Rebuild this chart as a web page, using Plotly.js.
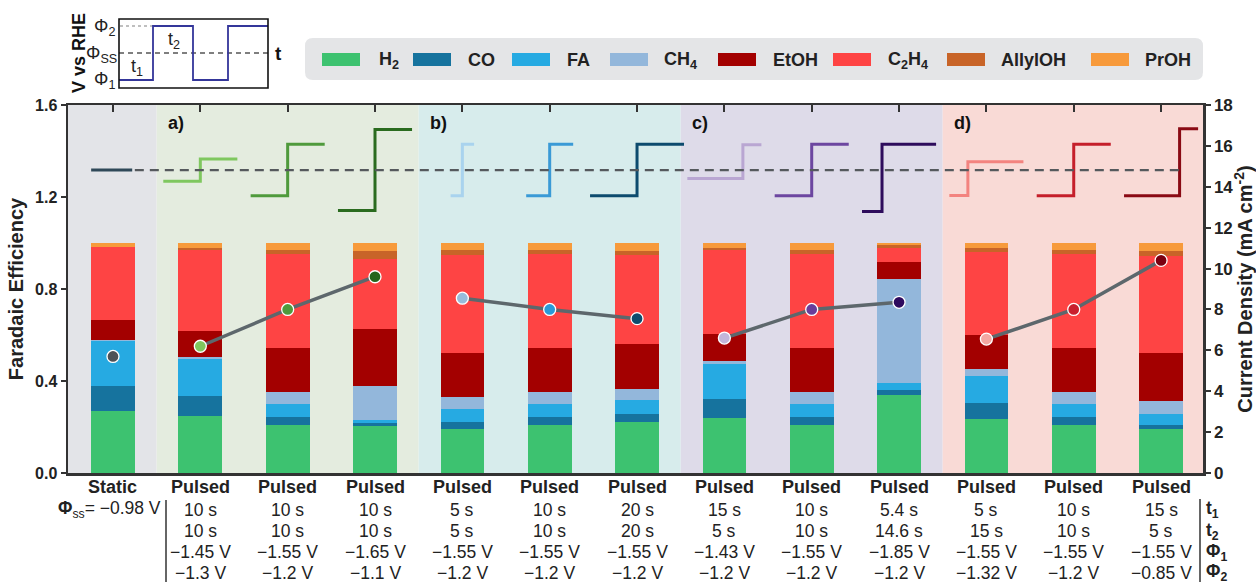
<!DOCTYPE html>
<html>
<head>
<meta charset="utf-8">
<script src="https://cdn.plot.ly/plotly-3.0.1.min.js"></script>
<style>html,body{margin:0;padding:0;background:#fff;}#chart{width:1256px;height:584px;}</style>
</head>
<body>
<div id="chart"></div>
<script>
// ---------------- DATA ----------------
const categories = ['Static','Pulsed','Pulsed','Pulsed','Pulsed','Pulsed','Pulsed','Pulsed','Pulsed','Pulsed','Pulsed','Pulsed','Pulsed'];
const groupOf = [0,1,1,1,2,2,2,3,3,3,4,4,4];
const groupLabels = ['','a)','b)','c)','d)'];
const t1 = [null,10,10,10,5,10,20,15,10,5.4,5,10,15];
const t2 = [null,10,10,10,5,10,20,5,10,14.6,15,10,5];
const phi1 = [-0.98,-1.45,-1.55,-1.65,-1.55,-1.55,-1.55,-1.43,-1.55,-1.85,-1.55,-1.55,-1.55];
const phi2 = [-0.98,-1.3,-1.2,-1.1,-1.2,-1.2,-1.2,-1.2,-1.2,-1.2,-1.32,-1.2,-0.85];
const phiSS = -0.98;

const feH2    = [0.270,0.250,0.210,0.205,0.190,0.210,0.220,0.240,0.210,0.340,0.235,0.210,0.190];
const feCO    = [0.108,0.085,0.032,0.012,0.030,0.032,0.037,0.080,0.032,0.022,0.069,0.032,0.020];
const feFA    = [0.196,0.159,0.060,0.015,0.060,0.060,0.060,0.155,0.060,0.029,0.116,0.060,0.047];
const feCH4   = [0.003,0.012,0.049,0.145,0.049,0.049,0.050,0.010,0.049,0.452,0.032,0.049,0.054];
const feEtOH  = [0.090,0.112,0.193,0.248,0.194,0.193,0.192,0.120,0.193,0.073,0.146,0.193,0.211];
const feC2H4  = [0.314,0.352,0.407,0.307,0.426,0.407,0.388,0.366,0.407,0.064,0.365,0.407,0.421];
const feAllyl = [0.003,0.010,0.019,0.032,0.019,0.019,0.019,0.008,0.019,0.013,0.015,0.019,0.024];
const fePrOH  = [0.016,0.018,0.031,0.037,0.033,0.031,0.033,0.020,0.031,0.007,0.022,0.031,0.033];

const currentDensity = [5.7,6.2,8.0,9.6,8.55,8.0,7.55,6.6,8.0,8.35,6.55,8.0,10.4];

const productNames = ['H<sub>2</sub>','CO','FA','CH<sub>4</sub>','EtOH','C<sub>2</sub>H<sub>4</sub>','AllylOH','PrOH'];
const productData = [feH2,feCO,feFA,feCH4,feEtOH,feC2H4,feAllyl,fePrOH];
const productColors = ['#3dc270','#16739e','#26aae2','#93b7db','#a30000','#fe4444','#c86428','#f79a3b'];

const pointColors = ['#4d5257','#80c75e','#4f9a3c','#26661c','#98bcdb','#2a9ad8','#0c4c6e','#c3b6da','#6a3d9a','#2e0a5e','#f4a7a2','#c9202e','#7a0010'];
const iconColors  = ['#2f4858','#7fc75f','#4f9a3c','#2a6b1f','#a9d3ee','#3a9ad6','#0d4b6e','#b9a6d2','#6c46a0','#2e0c5c','#f3837f','#c51f2b','#8a0a14'];
const regionColors = ['#e3e4e8','#e4ecdf','#d7ecec','#dedbe9','#f9dad6'];

// schematic step icon parameters
const ssLevel = 1.317;       // FE-axis height at which the Φss dashed reference is drawn
const voltScale = 0.64;      // FE units per volt in the schematic
const voltCap = 0.18;        // max drawn excursion
const groupTimeScale = [0,0.0424,0.0269,0.0424,0.0424]; // category units per second

// ---------------- GEOMETRY ----------------
const PL=68, PR=1203, PT=105, PB=473;
const W=PR-PL, H=PB-PT;
const px = x => (x-PL)/W, py = y => (PB-y)/H;
const xRange = [-0.515, 12.48];
const FONT = 'Liberation Sans, Arial, sans-serif';
const xs = categories.map((_,i)=>i);

const traces = [];
productData.forEach((d,k)=>{
  traces.push({type:'bar', x:xs, y:d, width:0.5, name:productNames[k],
    marker:{color:productColors[k], line:{width:0}}, xaxis:'x', yaxis:'y', hoverinfo:'y+name', showlegend:false});
});

// Φss dashed reference (on top x-axis for ticks)
traces.push({type:'scatter', mode:'lines', x:[0.25, 12.26], y:[ssLevel, ssLevel], xaxis:'x2', yaxis:'y',
  line:{color:'#55595d', width:2.2, dash:'9px,6px'}, hoverinfo:'skip', showlegend:false});
// static icon
traces.push({type:'scatter', mode:'lines', x:[-0.25,0.22], y:[ssLevel,ssLevel],
  line:{color:iconColors[0], width:3}, hoverinfo:'skip', showlegend:false});

// step icons
for (let i=1;i<categories.length;i++){
  const ts = groupTimeScale[groupOf[i]];
  const avg = (t1[i]*phi1[i] + t2[i]*phi2[i])/(t1[i]+t2[i]);
  const clamp = v => Math.max(-voltCap, Math.min(voltCap, v));
  const yLow = ssLevel + clamp((phi1[i]-avg)*voltScale);
  const yHigh = ssLevel + clamp((phi2[i]-avg)*voltScale);
  const w = (t1[i]+t2[i])*ts;
  const x0 = i - w/2, xv = x0 + t1[i]*ts, x1 = x0 + w;
  traces.push({type:'scatter', mode:'lines', x:[x0,xv,xv,x1], y:[yLow,yLow,yHigh,yHigh],
    line:{color:iconColors[i], width:3}, hoverinfo:'skip', showlegend:false});
}

// current density lines per group
const lx=[], ly=[];
for (let g=1; g<groupLabels.length; g++){
  xs.forEach(i=>{ if(groupOf[i]===g){ lx.push(i); ly.push(currentDensity[i]); }});
  lx.push(null); ly.push(null);
}
traces.push({type:'scatter', mode:'lines', x:lx, y:ly, xaxis:'x', yaxis:'y2',
  line:{color:'#5d676c', width:3.5}, connectgaps:false, hoverinfo:'skip', showlegend:false});
traces.push({type:'scatter', mode:'markers', x:xs, y:currentDensity, xaxis:'x', yaxis:'y2',
  marker:{color:pointColors, size:12, line:{color:'#ffffff', width:1.3}}, showlegend:false, name:'j'});

// ---------------- SHAPES ----------------
const shapes = [];
for (let g=0; g<groupLabels.length; g++){
  const idx = xs.filter(i=>groupOf[i]===g);
  let a = Math.min(...idx)-0.5, b = Math.max(...idx)+0.5;
  if (g===0) a = xRange[0];
  if (g===groupLabels.length-1) b = xRange[1];
  shapes.push({type:'rect', xref:'x', yref:'paper', x0:a, x1:b, y0:0, y1:1, fillcolor:regionColors[g], line:{width:0}, layer:'below'});
}
function roundRect(x0,y0,x1,y1,r){
  const X=v=>px(v).toFixed(5), Y=v=>py(v).toFixed(5);
  return `M ${X(x0+r)},${Y(y0)} L ${X(x1-r)},${Y(y0)} Q ${X(x1)},${Y(y0)} ${X(x1)},${Y(y0+r)} L ${X(x1)},${Y(y1-r)} Q ${X(x1)},${Y(y1)} ${X(x1-r)},${Y(y1)} L ${X(x0+r)},${Y(y1)} Q ${X(x0)},${Y(y1)} ${X(x0)},${Y(y1-r)} L ${X(x0)},${Y(y0+r)} Q ${X(x0)},${Y(y0)} ${X(x0+r)},${Y(y0)} Z`;
}
shapes.push({type:'path', xref:'paper', yref:'paper', path:roundRect(305,38,1203,80,8), fillcolor:'#e4e5e7', line:{width:0}});
const legendSwatchX = [322,413,512,610,718,833,947,1091];
const legendLabelX  = [377,466,565,662,771,886,999,1143];
const annotations = [];
productNames.forEach((n,k)=>{
  shapes.push({type:'rect', xref:'paper', yref:'paper', x0:px(legendSwatchX[k]), x1:px(legendSwatchX[k]+38), y0:py(66), y1:py(53),
    fillcolor:productColors[k], line:{width:0}});
  annotations.push({xref:'paper', yref:'paper', x:px(legendLabelX[k]), y:py(60), xanchor:'left', yanchor:'middle',
    text:'<b>'+n+'</b>', showarrow:false, font:{family:FONT, size:18, color:'#222'}});
});

// inset schematic
const ix0=119, ix1=268, iy0=19, iy1=88, yP2=26, yP1=80, ySS=53;
shapes.push({type:'line', xref:'paper', yref:'paper', x0:px(120), x1:px(153), y0:py(yP2), y1:py(yP2), line:{color:'#aaaaaa', width:1.5, dash:'dot'}});
shapes.push({type:'line', xref:'paper', yref:'paper', x0:px(ix0), x1:px(ix1), y0:py(ySS), y1:py(ySS), line:{color:'#555', width:1.5, dash:'5px,4px'}});
const wave = [[ix0,yP1],[153,yP1],[153,yP2],[193,yP2],[193,yP1],[228,yP1],[228,yP2],[ix1,yP2]];
shapes.push({type:'path', xref:'paper', yref:'paper',
  path: wave.map((p,j)=>(j?'L ':'M ')+px(p[0]).toFixed(5)+','+py(p[1]).toFixed(5)).join(' '),
  line:{color:'#34369a', width:1.8}});
shapes.push({type:'rect', xref:'paper', yref:'paper', x0:px(ix0), x1:px(ix1), y0:py(iy1), y1:py(iy0), line:{color:'#111', width:1.6}, fillcolor:'rgba(0,0,0,0)'});
const insetFont = {family:FONT, size:18, color:'#222'};
annotations.push({xref:'paper', yref:'paper', x:px(117), y:py(yP2+1), xanchor:'right', yanchor:'middle', text:'Φ<sub>2</sub>', showarrow:false, font:insetFont});
annotations.push({xref:'paper', yref:'paper', x:px(119), y:py(ySS+1), xanchor:'right', yanchor:'middle', text:'Φ<sub>SS</sub>', showarrow:false, font:insetFont});
annotations.push({xref:'paper', yref:'paper', x:px(117), y:py(yP1+1), xanchor:'right', yanchor:'middle', text:'Φ<sub>1</sub>', showarrow:false, font:insetFont});
annotations.push({xref:'paper', yref:'paper', x:px(137), y:py(67), xanchor:'center', yanchor:'middle', text:'t<sub>1</sub>', showarrow:false, font:insetFont});
annotations.push({xref:'paper', yref:'paper', x:px(174), y:py(40), xanchor:'center', yanchor:'middle', text:'t<sub>2</sub>', showarrow:false, font:insetFont});
annotations.push({xref:'paper', yref:'paper', x:px(79), y:py(53), xanchor:'center', yanchor:'middle', text:'<b>V vs RHE</b>', textangle:-90, showarrow:false, font:{family:FONT, size:18, color:'#111'}});
annotations.push({xref:'paper', yref:'paper', x:px(273), y:py(53), xanchor:'left', yanchor:'middle', text:'<b>t</b>', showarrow:false, font:{family:FONT, size:19, color:'#111'}});

// group labels
for (let g=1; g<groupLabels.length; g++){
  const first = xs.find(i=>groupOf[i]===g);
  annotations.push({xref:'x', yref:'y', x:first-0.39, y:1.52, xanchor:'left', yanchor:'middle',
    text:'<b>'+groupLabels[g]+'</b>', showarrow:false, font:{family:FONT, size:18, color:'#111'}});
}

// table below
const fmtV = v => (v<0?'−':'') + Math.abs(v) + ' V';
const rowShift = [-14, -36.5, -58, -79, -99.5];
const tFont = {family:FONT, size:17.5, color:'#222'};
const hFont = {family:FONT, size:18, color:'#222'};
xs.forEach(i=>{
  annotations.push({xref:'x', yref:'paper', x:i, y:0, yshift:rowShift[0], xanchor:'center', yanchor:'middle',
    text:'<b>'+categories[i]+'</b>', showarrow:false, font:hFont});
  if (t1[i]!==null){
    const rows = [t1[i]+' s', t2[i]+' s', fmtV(phi1[i]), fmtV(phi2[i])];
    rows.forEach((r,k)=>annotations.push({xref:'x', yref:'paper', x:i, y:0, yshift:rowShift[k+1], xanchor:'center', yanchor:'middle',
      text:r, showarrow:false, font:tFont}));
  }
});
annotations.push({xref:'paper', yref:'paper', x:px(163), y:0, yshift:rowShift[1], xanchor:'right', yanchor:'middle',
  text:'<b>Φ</b><sub>ss</sub>= '+fmtV(phiSS), showarrow:false, font:tFont});
shapes.push({type:'line', xref:'paper', yref:'paper', x0:px(166), x1:px(166), y0:py(500), y1:py(582), line:{color:'#333', width:1.5}});
shapes.push({type:'line', xref:'paper', yref:'paper', x0:px(1200), x1:px(1200), y0:py(499), y1:py(582), line:{color:'#333', width:1.5}});
const rightRowLabels = ['t<sub>1</sub>','t<sub>2</sub>','Φ<sub>1</sub>','Φ<sub>2</sub>'];
rightRowLabels.forEach((r,k)=>annotations.push({xref:'paper', yref:'paper', x:px(1204), y:0, yshift:rowShift[k+1], xanchor:'left', yanchor:'middle',
  text:'<b>'+r+'</b>', showarrow:false, font:tFont}));

const axisLine = '#333';
const layout = {
  width:1256, height:584,
  margin:{l:PL, r:1256-PR, t:PT, b:584-PB, pad:0},
  paper_bgcolor:'#ffffff', plot_bgcolor:'#ffffff',
  barmode:'stack', bargap:0,
  font:{family:FONT, color:'#222'},
  showlegend:false,
  xaxis:{range:xRange, showticklabels:false, ticks:'', showgrid:false, zeroline:false,
    showline:true, mirror:true, linecolor:axisLine, linewidth:2.5, fixedrange:true},
  xaxis2:{range:xRange, overlaying:'x', side:'top', tickvals:xs, ticks:'inside', ticklen:7, tickwidth:2, tickcolor:axisLine,
    showticklabels:false, showgrid:false, zeroline:false, showline:false},
  yaxis:{range:[0,1.6], tickvals:[0,0.4,0.8,1.2,1.6], tickformat:'.1f', ticks:'outside', ticklen:5, tickwidth:2, tickcolor:axisLine,
    showgrid:false, zeroline:false, showline:true, linecolor:axisLine, linewidth:2.5,
    tickfont:{family:FONT, size:16, color:'#222', weight:'bold'},
    title:{text:'<b>Faradaic Efficiency</b>', font:{family:FONT, size:20, color:'#222'}, standoff:6}},
  yaxis2:{range:[0,18], tickvals:[0,2,4,6,8,10,12,14,16,18], overlaying:'y', side:'right', ticks:'outside', ticklen:5, tickwidth:2, tickcolor:axisLine,
    showgrid:false, zeroline:false, showline:true, linecolor:axisLine, linewidth:2.5,
    tickfont:{family:FONT, size:17, color:'#222', weight:'bold'},
    title:{text:'<b>Current Density (mA cm<sup>-2</sup>)</b>', font:{family:FONT, size:20, color:'#222'}, standoff:5}},
  shapes:shapes,
  annotations:annotations
};
Plotly.newPlot('chart', traces, layout, {displayModeBar:false, staticPlot:true});
</script>
</body>
</html>
